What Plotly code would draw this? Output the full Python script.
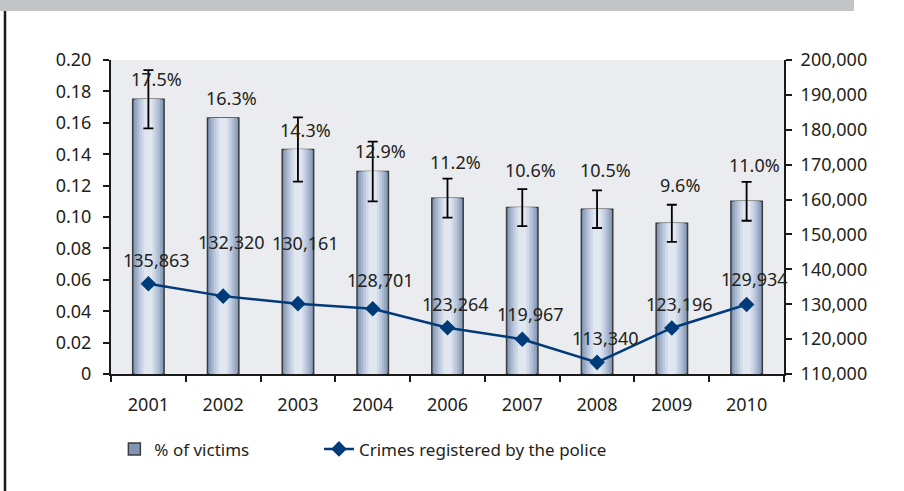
import plotly.graph_objects as go

years = ["2001", "2002", "2003", "2004", "2006", "2007", "2008", "2009", "2010"]
victims = [0.175, 0.163, 0.143, 0.129, 0.112, 0.106, 0.105, 0.096, 0.110]
victims_err = [0.0185, 0, 0.0205, 0.019, 0.0124, 0.0118, 0.012, 0.0118, 0.0124]
victims_labels = ["17.5%", "16.3%", "14.3%", "12.9%", "11.2%", "10.6%", "10.5%", "9.6%", "11.0%"]
crimes = [135863, 132320, 130161, 128701, 123264, 119967, 113340, 123196, 129934]
left_ticks = [0, 0.02, 0.04, 0.06, 0.08, 0.10, 0.12, 0.14, 0.16, 0.18, 0.20]
left_ticktext = ["0", "0.02", "0.04", "0.06", "0.08", "0.10", "0.12", "0.14", "0.16", "0.18", "0.20"]

# label lifts (px) copied from how the labels sit in the original
pct_shift = [6, 6, 5, 6, 22, 24, 25, 24, 22]
crime_shift = [10, 40, 47, 15, 10, 11, 10, 10, 11]

FONT = "Noto Sans"
FS = 18
TXT = "#231f20"
NAVY = "#003a78"
INK = "#1a1a1a"

fig = go.Figure()

# fake horizontal gradient on the bars: stacked overlay bars, narrower and lighter
layers = [(0.42, "#8195b4"), (0.37, "#94a6c2"), (0.31, "#a9b8d0"), (0.25, "#bdc9dc"),
          (0.18, "#d0d9e7"), (0.11, "#e1e7f0")]
for i, (w, c) in enumerate(layers):
    fig.add_trace(go.Bar(
        x=years, y=victims, width=w, name="% of victims",
        marker=dict(color=c, line=dict(color="#3c3c3c", width=1.5 if i == 0 else 0)),
        showlegend=(i == 0), hoverinfo="skip"))

# error bars drawn over the bars (2002 has none)
err_x = [y for y, e in zip(years, victims_err) if e > 0]
err_y = [v for v, e in zip(victims, victims_err) if e > 0]
err_e = [e for e in victims_err if e > 0]
fig.add_trace(go.Scatter(
    x=err_x, y=err_y, mode="markers", marker=dict(size=1, color="rgba(0,0,0,0)"),
    error_y=dict(type="data", array=err_e, color="black", thickness=1.8, width=5),
    showlegend=False, hoverinfo="skip"))

fig.add_trace(go.Scatter(
    x=years, y=crimes, yaxis="y2", mode="lines+markers",
    name="Crimes registered by the police", legend="legend2",
    line=dict(color=NAVY, width=2.5),
    marker=dict(symbol="diamond", size=12, color=NAVY)))

for i, (v, t) in enumerate(zip(victims, victims_labels)):
    fig.add_annotation(x=i, y=v, text=t, showarrow=False, yanchor="bottom",
                       yshift=pct_shift[i], xshift=8,
                       font=dict(family=FONT, size=FS, color=TXT))
for i, v in enumerate(crimes):
    fig.add_annotation(x=i, y=v, yref="y2", text=f"{v:,}", showarrow=False,
                       yanchor="bottom", yshift=crime_shift[i], xshift=8,
                       font=dict(family=FONT, size=FS, color=TXT))

# page decorations: grey band at top, black rule on the left
fig.add_shape(type="rect", xref="paper", yref="paper", x0=-0.17, x1=1.104,
              y0=1.156, y1=1.2, fillcolor="#c3c4c6", line_width=0, layer="below")
fig.add_shape(type="line", xref="paper", yref="paper", x0=-0.1575, x1=-0.1575,
              y0=1.156, y1=-0.38, line=dict(color=INK, width=2.5))

axis_line = dict(showline=True, linecolor=INK, linewidth=2, showgrid=False, zeroline=False)
tick_style = dict(ticklen=6, tickwidth=2, tickcolor=INK)

fig.update_layout(
    width=904, height=491,
    margin=dict(l=111, r=120, t=60, b=117),
    paper_bgcolor="white", plot_bgcolor="#ebecef",
    barmode="overlay",
    font=dict(family=FONT, size=FS, color=TXT),
    legend=dict(orientation="h", x=0.005, xanchor="left", y=-0.24, yanchor="middle",
                font=dict(size=17), bgcolor="rgba(0,0,0,0)"),
    legend2=dict(orientation="h", x=0.309, xanchor="left", y=-0.24, yanchor="middle",
                 font=dict(size=17), bgcolor="rgba(0,0,0,0)"),
    xaxis=dict(**axis_line, **tick_style, ticks="outside", tickson="boundaries",
               range=[-0.5, 8.5], ticklabelstandoff=13),
    xaxis2=dict(overlaying="x", anchor="y", range=[-0.5, 8.5], tick0=0.5, dtick=1,
                ticks="inside", **tick_style, showticklabels=False, showgrid=False,
                zeroline=False, side="bottom"),
    yaxis=dict(**axis_line, **tick_style, range=[0, 0.2], tickvals=left_ticks,
               ticktext=left_ticktext, ticks="outside", ticklabelstandoff=8),
    yaxis2=dict(**axis_line, **tick_style, overlaying="y", side="right",
                range=[110000, 200000], dtick=10000, tickformat=",", ticks="outside",
                ticklabelstandoff=5),
    yaxis3=dict(overlaying="y", side="left", range=[0, 0.2], dtick=0.02, ticks="inside",
                **tick_style, showticklabels=False, showgrid=False, zeroline=False),
    yaxis4=dict(overlaying="y", side="right", range=[110000, 200000], dtick=10000,
                ticks="inside", **tick_style, showticklabels=False, showgrid=False,
                zeroline=False),
)

fig.write_html("out.html", config={"displayModeBar": False},
               post_script="document.body.style.margin='0px';")
